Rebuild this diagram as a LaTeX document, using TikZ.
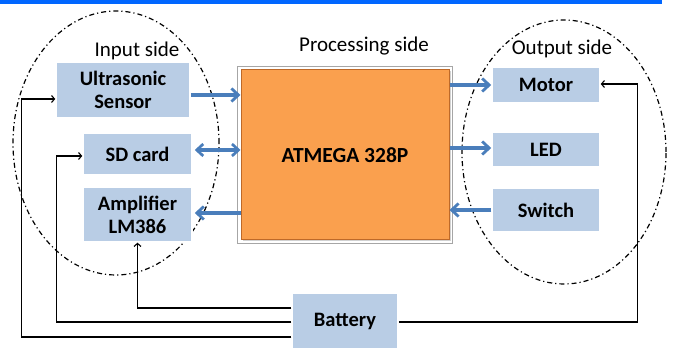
\documentclass[tikz,border=0pt]{standalone}
\usepackage{fontspec}
\setmainfont{Carlito}
\usetikzlibrary{arrows.meta,shadows}
\definecolor{topbar}{RGB}{0,102,255}
\definecolor{boxfill}{RGB}{185,205,229}
\definecolor{arrblue}{RGB}{74,126,187}
\definecolor{atmfill}{RGB}{250,160,78}
\definecolor{atmedge}{RGB}{190,105,40}
\tikzset{
  blk/.style={rectangle, fill=boxfill, draw=white, line width=1.5pt,
    drop shadow={shadow xshift=1pt, shadow yshift=-1.2pt, fill=black!30, opacity=0.6},
    font=\fontsize{20.5}{23}\selectfont\bfseries, align=center, inner sep=0pt},
  sidelabel/.style={font=\fontsize{21}{24}\selectfont, inner sep=0pt},
  barrow/.style={draw=arrblue, line width=3.4pt, -{Straight Barb[length=7pt,width=13pt,line width=2.8pt]}},
  barrowboth/.style={draw=arrblue, line width=3.2pt, {Straight Barb[length=6.5pt,width=12pt,line width=2.7pt]}-{Straight Barb[length=6.5pt,width=12pt,line width=2.7pt]}},
  wire/.style={draw=black, line width=1.3pt, -{Straight Barb[length=3pt,width=7pt,line width=1.1pt]}},
  zone/.style={draw=black, line width=1.2pt, dash pattern=on 5pt off 3pt on 1.2pt off 3pt}
}
\begin{document}
\begin{tikzpicture}[x=1pt,y=1pt]
\useasboundingbox (0,0) rectangle (673,-352);
\fill[topbar] (0,0) rectangle (662,-4);

% zones
\draw[zone] (116,-143) ellipse [x radius=103, y radius=132];
\draw[zone] (564,-152) ellipse [x radius=102, y radius=132];

% labels
\node[sidelabel] (lin) at (137,-51) {Input side};
\node[sidelabel] (lproc) at (364,-46) {Processing side};
\node[sidelabel] (lout) at (562,-49) {Output side};

% boxes
\node[blk, minimum width=134pt, minimum height=56pt] (us) at (123,-90) {Ultrasonic\\Sensor};
\node[blk, minimum width=109pt, minimum height=42pt] (sd) at (137.5,-154) {SD card};
\node[blk, minimum width=109pt, minimum height=55pt] (amp) at (137.5,-214.5) {Amplifier\\LM386};
\node[blk, minimum width=108pt, minimum height=36pt] (motor) at (546,-85) {Motor};
\node[blk, minimum width=108pt, minimum height=35pt] (led) at (546,-149.5) {LED};
\node[blk, minimum width=108pt, minimum height=44pt] (sw) at (546,-210) {Switch};
\node[blk, minimum width=106pt, minimum height=56pt] (bat) at (345,-321) {Battery};

% processor
\node[rectangle, fill=atmfill, draw=atmedge, line width=1pt, minimum width=208pt, minimum height=170pt,
  font=\fontsize{21.5}{24}\selectfont\bfseries, inner sep=0pt,
  drop shadow={shadow xshift=1.5pt, shadow yshift=-1.5pt, fill=black!30, opacity=0.6}] (atm) at (345,-155) {ATMEGA 328P};
\draw[black!35, line width=0.8pt] ([shift={(-3pt,3pt)}]atm.north west) rectangle ([shift={(3pt,-3pt)}]atm.south east);

% blue data arrows
\draw[barrow] ([yshift=-5pt]us.east) -- ([yshift=-5pt]us.east -| atm.west);
\draw[barrowboth] ([yshift=4pt,xshift=2pt]sd.east) -- ([yshift=4pt]sd.east -| atm.west);
\draw[barrow] ([yshift=1.5pt]amp.east -| atm.west) -- ([yshift=1.5pt,xshift=2pt]amp.east);
\draw[barrow] (atm.east |- motor.west) -- (motor.west);
\draw[barrow] ([yshift=1.5pt]atm.east |- led.west) -- ([yshift=1.5pt]led.west);
\draw[barrow] (sw.west) -- (sw.west -| atm.east);

% power wires
\draw[wire] ([yshift=-16pt]bat.west) -| ([xshift=-34pt,yshift=-9pt]us.west) -- ([yshift=-9pt]us.west);
\draw[wire] ([yshift=-1pt]bat.west) -| ([xshift=-26pt,yshift=-2pt]sd.west) -- ([yshift=-2pt]sd.west);
\draw[wire] ([yshift=13pt]bat.west) -| (amp.south);
\draw[wire] ([yshift=-1pt]bat.east) -| ([xshift=37pt,yshift=1pt]motor.east) -- ([yshift=1pt]motor.east);
\end{tikzpicture}
\end{document}
